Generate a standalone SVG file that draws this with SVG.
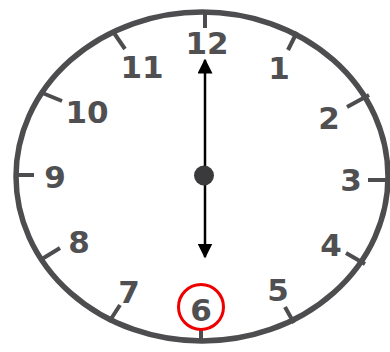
<svg xmlns="http://www.w3.org/2000/svg" width="390" height="352" viewBox="0 0 390 352">
<defs>
<style>
.face{fill:#fff;stroke:#4d4d4f;stroke-width:5.5}
.tick{stroke:#4d4d4f;stroke-width:4;stroke-linecap:butt}
.num{font-family:"DejaVu Sans",Verdana,sans-serif;font-weight:bold;font-size:31px;fill:#505052;text-anchor:middle}
.hand{stroke:#000;stroke-width:2.5;fill:none}
</style>
<marker id="ah" viewBox="0 0 10 10" refX="9" refY="5" markerWidth="15" markerHeight="15" markerUnits="userSpaceOnUse" orient="auto-start-reverse">
<path d="M0,0 L10,5 L0,10 Z" fill="#000"/>
</marker>
</defs>
<rect width="390" height="352" fill="#fff"/>
<g id="clock-face">
<ellipse class="face" cx="202" cy="176.5" rx="186" ry="164.5"/>
</g>
<g id="ticks">
<line class="tick" x1="205" y1="12" x2="205" y2="28"/>
<line class="tick" x1="297" y1="32" x2="288" y2="50"/>
<line class="tick" x1="369" y1="95" x2="347" y2="107"/>
<line class="tick" x1="388" y1="180" x2="368" y2="180"/>
<line class="tick" x1="365" y1="264" x2="346" y2="253"/>
<line class="tick" x1="294" y1="323" x2="285" y2="307"/>
<line class="tick" x1="201" y1="342" x2="201" y2="329"/>
<line class="tick" x1="109" y1="322" x2="120" y2="305"/>
<line class="tick" x1="42" y1="259" x2="60" y2="248"/>
<line class="tick" x1="16" y1="175" x2="34" y2="175"/>
<line class="tick" x1="40" y1="92" x2="62" y2="101"/>
<line class="tick" x1="114" y1="33" x2="125" y2="49"/>
</g>
<g id="numbers">
<text class="num" x="207" y="53.5">12</text>
<text class="num" x="279" y="78.5">1</text>
<text class="num" x="329" y="128.5">2</text>
<text class="num" x="351" y="190.5">3</text>
<text class="num" x="331" y="255.5">4</text>
<text class="num" x="278" y="300.5">5</text>
<text class="num" x="201" y="320.5">6</text>
<text class="num" x="129" y="302.5">7</text>
<text class="num" x="79" y="252.5">8</text>
<text class="num" x="55" y="187.5">9</text>
<text class="num" x="87" y="122.5">10</text>
<text class="num" x="142" y="77.5">11</text>
</g>
<g id="connectors">
<line class="hand" x1="205" y1="60" x2="205" y2="257" marker-start="url(#ah)" marker-end="url(#ah)"/>
</g>
<g id="center">
<circle cx="204" cy="175.5" r="10" fill="#3a3a3c"/>
</g>
<g id="highlight">
<circle cx="201" cy="307" r="22.5" fill="none" stroke="#e00" stroke-width="3"/>
</g>
</svg>
